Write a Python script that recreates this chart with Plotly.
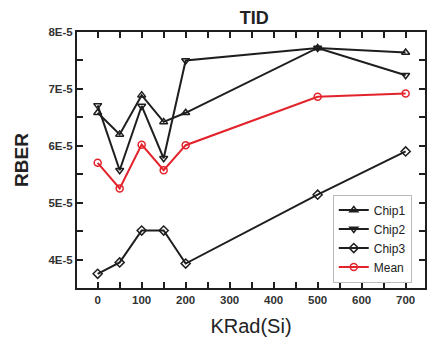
import plotly.graph_objects as go

dose = [0, 50, 100, 150, 200, 500, 700]
chip1 = [6.58e-5, 6.20e-5, 6.89e-5, 6.42e-5, 6.58e-5, 7.72e-5, 7.64e-5]
chip2 = [6.71e-5, 5.57e-5, 6.70e-5, 5.78e-5, 7.50e-5, 7.72e-5, 7.24e-5]
chip3 = [3.75e-5, 3.95e-5, 4.51e-5, 4.51e-5, 3.93e-5, 5.14e-5, 5.90e-5]
mean = [5.70e-5, 5.25e-5, 6.02e-5, 5.57e-5, 6.01e-5, 6.86e-5, 6.92e-5]

ytick_vals = [4e-5, 5e-5, 6e-5, 7e-5, 8e-5]
ytick_text = ["<b>4E-5</b>", "<b>5E-5</b>", "<b>6E-5</b>", "<b>7E-5</b>", "<b>8E-5</b>"]
xtick_vals = [0, 100, 200, 300, 400, 500, 600, 700]
xtick_text = ["<b>%d</b>" % v for v in xtick_vals]

black = "#1e1e1e"
red = "#e3232b"

fig = go.Figure()
series = [
    ("Chip1", chip1, "triangle-up-open", black),
    ("Chip2", chip2, "triangle-down-open", black),
    ("Chip3", chip3, "diamond-open", black),
    ("Mean", mean, "circle-open", red),
]
for name, vals, sym, col in series:
    fig.add_trace(go.Scatter(
        x=dose, y=vals, name=name, mode="lines+markers",
        line=dict(color=col, width=2),
        marker=dict(symbol=sym, size=7, color=col, line=dict(width=1.5, color=col)),
    ))

axis_common = dict(
    showline=True, linecolor=black, linewidth=2, mirror="allticks",
    ticks="inside", ticklen=6, tickwidth=2, tickcolor=black,
    showgrid=False, zeroline=False,
    tickfont=dict(family="Liberation Sans, Arial", size=11.5, color="#333"),
)

fig.update_layout(
    width=428, height=342,
    margin=dict(l=77, r=1, t=32, b=54),
    paper_bgcolor="white", plot_bgcolor="white",
    title=dict(text="<b>TID</b>", x=0.594, xanchor="center", y=0.948, yanchor="middle",
               font=dict(family="Liberation Sans, Arial", size=18, color="#222")),
    xaxis=dict(range=[-47, 744], tickvals=xtick_vals, ticktext=xtick_text,
               minor=dict(ticks="inside", dtick=50, tick0=0, ticklen=6, tickwidth=2, tickcolor=black),
               title=dict(text="KRad(Si)", font=dict(family="Liberation Sans, Arial", size=20, color="#222"), standoff=14),
               **axis_common),
    yaxis=dict(range=[3.5e-5, 8e-5], tickvals=ytick_vals, ticktext=ytick_text,
               minor=dict(ticks="inside", dtick=0.5e-5, tick0=0, ticklen=6, tickwidth=2, tickcolor=black),
               title=dict(text="<b>RBER</b>", font=dict(family="Liberation Sans, Arial", size=19, color="#222"), standoff=15),
               **axis_common),
    legend=dict(x=0.735, y=0.365, xanchor="left", yanchor="top",
                bgcolor="rgba(255,255,255,0.9)", bordercolor="#bbbbbb", borderwidth=1,
                font=dict(family="Liberation Sans, Arial", size=12, color="#222"),
                tracegroupgap=0, itemwidth=30),
    showlegend=True,
)

fig.write_html("out.html")
